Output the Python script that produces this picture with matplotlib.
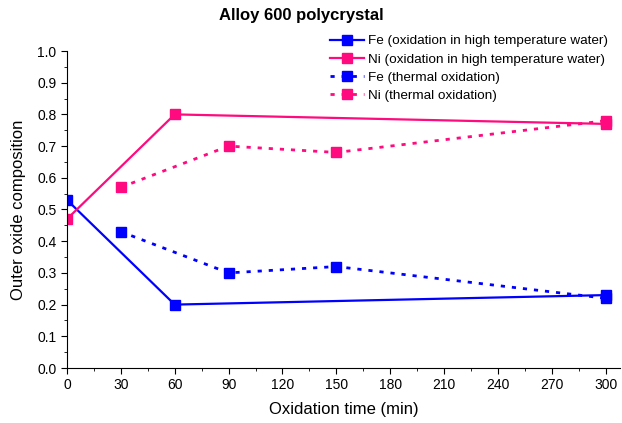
import matplotlib
matplotlib.use("Agg")
import matplotlib.pyplot as plt
from matplotlib.ticker import MultipleLocator

plt.rcParams['font.family'] = ['Liberation Sans', 'DejaVu Sans']

# data
t_water = [0, 60, 300]
fe_water = [0.53, 0.20, 0.23]
ni_water = [0.47, 0.80, 0.77]
t_thermal = [30, 90, 150, 300]
fe_thermal = [0.43, 0.30, 0.32, 0.22]
ni_thermal = [0.57, 0.70, 0.68, 0.78]

blue = '#0000FF'
pink = '#FF0A7F'

fig = plt.figure(figsize=(6.22, 4.23), dpi=100)
ax = fig.add_axes([67/622, 55/423, 553/622, 317/423])

ax.plot(t_water, fe_water, '-s', color=blue, lw=1.6, ms=7,
        label='Fe (oxidation in high temperature water)')
ax.plot(t_water, ni_water, '-s', color=pink, lw=1.6, ms=7,
        label='Ni (oxidation in high temperature water)')
ax.plot(t_thermal, fe_thermal, 's', ls=(0, (1.5, 2.5)), color=blue, lw=2, ms=7,
        label='Fe (thermal oxidation)')
ax.plot(t_thermal, ni_thermal, 's', ls=(0, (1.5, 2.5)), color=pink, lw=2, ms=7,
        label='Ni (thermal oxidation)')

ax.set_xlim(0, 308)
ax.set_ylim(0, 1.0)
ax.xaxis.set_major_locator(MultipleLocator(30))
ax.xaxis.set_minor_locator(MultipleLocator(15))
ax.yaxis.set_major_locator(MultipleLocator(0.1))
ax.yaxis.set_minor_locator(MultipleLocator(0.05))
ax.yaxis.set_major_formatter(matplotlib.ticker.FormatStrFormatter('%.1f'))
ax.spines['top'].set_visible(False)
ax.spines['right'].set_visible(False)
ax.tick_params(which='major', direction='out', length=4, labelsize=10)
ax.tick_params(which='minor', direction='out', length=2.5)

ax.set_xlabel('Oxidation time (min)', fontsize=12, labelpad=7)
ax.set_ylabel('Outer oxide composition', fontsize=12, labelpad=8)
fig.text(301/622, 0.963, 'Alloy 600 polycrystal', ha='center', va='center',
         fontsize=12, fontweight='bold')

ax.legend(loc='upper left', bbox_to_anchor=(330/622, 1 - 35/423),
          bbox_transform=fig.transFigure, frameon=False, fontsize=9.7,
          handlelength=2.5, labelspacing=0.42, handletextpad=0.3,
          borderpad=0, borderaxespad=0)

fig.savefig('out.png', dpi=100)
